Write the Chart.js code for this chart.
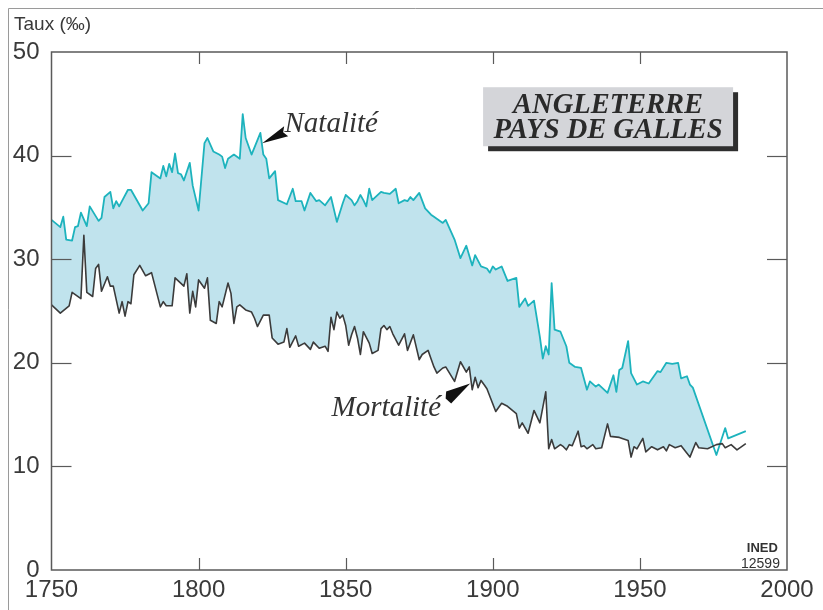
<!DOCTYPE html>
<html lang="fr">
<head>
<meta charset="utf-8">
<title>Angleterre - Pays de Galles : natalité et mortalité</title>
<script src="https://cdn.jsdelivr.net/npm/chart.js@4.4.1/dist/chart.umd.min.js"></script>
<style>
  html, body { margin: 0; padding: 0; background: #fff; }
  #wrap { width: 823px; height: 610px; }
</style>
</head>
<body>
<div id="wrap"><canvas id="graphique" width="823" height="610"></canvas></div>
<script>
// taux de natalité (pour mille)
const anneesNatalite = [1750, 1753, 1754, 1755, 1757, 1758, 1759, 1760, 1762, 1763, 1766, 1767, 1768, 1770, 1771, 1772, 1773, 1776, 1777, 1781,
  1783, 1784, 1787, 1788, 1789, 1790, 1791, 1792, 1793, 1794, 1795, 1797, 1798, 1800, 1802, 1803, 1805, 1807, 1808, 1809,
  1810, 1812, 1814, 1815, 1816, 1818, 1821, 1822, 1823, 1824, 1826, 1827, 1830, 1832, 1833, 1835, 1836, 1838, 1840, 1841,
  1843, 1845, 1847, 1849, 1850, 1852, 1853, 1854, 1855, 1856, 1857, 1858, 1859, 1862, 1863, 1865, 1867, 1868, 1870, 1871,
  1872, 1873, 1875, 1877, 1879, 1880, 1883, 1884, 1887, 1889, 1891, 1893, 1894, 1896, 1898, 1899, 1900, 1901, 1903, 1905,
  1908, 1909, 1911, 1912, 1914, 1916, 1917, 1918, 1919, 1920, 1921, 1923, 1925, 1926, 1928, 1930, 1932, 1933, 1935, 1936,
  1939, 1941, 1942, 1943, 1944, 1946, 1947, 1949, 1951, 1953, 1956, 1957, 1959, 1961, 1963, 1964, 1966, 1967, 1968, 1976,
  1979, 1980, 1986];
const natalite = [33.8, 33.1, 34.1, 31.9, 31.8, 33.1, 33.2, 34.5, 33.2, 35.1, 33.7, 34.0, 36.0, 36.5, 34.9, 35.6, 35.1, 36.7, 36.7, 34.7,
  35.4, 38.4, 37.8, 39.0, 38.0, 39.2, 38.4, 40.2, 38.3, 38.2, 37.6, 39.3, 37.1, 34.7, 41.2, 41.7, 40.4, 40.1, 39.9, 38.8,
  39.7, 40.1, 39.7, 44.0, 41.7, 40.1, 42.2, 40.1, 39.7, 37.8, 38.5, 35.7, 35.3, 36.8, 35.6, 35.6, 34.7, 36.4, 35.6, 35.7,
  35.2, 36.0, 33.6, 35.4, 36.2, 35.7, 35.2, 35.6, 36.2, 35.7, 35.1, 36.8, 35.7, 36.5, 36.4, 36.3, 36.8, 35.4, 35.7, 35.6,
  36.0, 35.7, 36.4, 34.9, 34.3, 34.1, 33.5, 33.8, 31.9, 30.1, 31.3, 29.4, 30.4, 29.3, 29.1, 28.7, 29.3, 29.0, 29.3, 27.9,
  28.2, 25.4, 26.2, 25.5, 26.0, 22.5, 20.4, 21.6, 20.8, 27.7, 23.2, 23.0, 21.6, 20.0, 19.6, 19.5, 17.4, 18.2, 17.7, 17.9,
  17.1, 18.8, 17.2, 19.3, 19.5, 22.1, 19.0, 17.9, 18.2, 18.0, 19.2, 19.1, 20.0, 19.9, 20.0, 18.5, 18.7, 17.9, 17.6, 11.1,
  13.7, 12.7, 13.4];

// taux de mortalité (pour mille)
const anneesMortalite = [1750, 1753, 1756, 1757, 1760, 1761, 1762, 1764, 1765, 1766, 1767, 1769, 1770, 1771, 1773, 1774, 1775, 1776, 1777, 1778,
  1780, 1782, 1784, 1787, 1788, 1789, 1791, 1792, 1795, 1796, 1797, 1798, 1799, 1800, 1802, 1803, 1804, 1806, 1807, 1808,
  1810, 1811, 1812, 1813, 1814, 1816, 1818, 1819, 1820, 1822, 1824, 1825, 1827, 1829, 1830, 1831, 1833, 1834, 1836, 1838,
  1839, 1841, 1843, 1844, 1845, 1846, 1847, 1848, 1849, 1850, 1851, 1852, 1853, 1854, 1855, 1856, 1858, 1859, 1861, 1862,
  1863, 1864, 1865, 1866, 1868, 1870, 1871, 1873, 1875, 1876, 1878, 1879, 1880, 1881, 1883, 1884, 1887, 1889, 1891, 1892,
  1893, 1894, 1895, 1896, 1897, 1898, 1901, 1903, 1905, 1908, 1909, 1910, 1912, 1914, 1916, 1918, 1919, 1920, 1921, 1923,
  1924, 1925, 1926, 1927, 1929, 1930, 1931, 1932, 1934, 1935, 1937, 1939, 1940, 1943, 1945, 1946, 1947, 1948, 1949, 1951,
  1952, 1954, 1956, 1958, 1959, 1960, 1962, 1964, 1967, 1969, 1970, 1973, 1976, 1978, 1979, 1981, 1983, 1986];
const mortalite = [25.6, 24.8, 25.5, 26.8, 26.2, 32.3, 26.8, 26.4, 29.1, 29.5, 26.9, 28.3, 27.4, 27.4, 24.8, 25.9, 24.5, 25.9, 25.7, 28.5,
  29.4, 28.4, 28.7, 25.4, 25.9, 25.5, 25.5, 28.2, 27.4, 28.6, 24.8, 26.9, 25.4, 28.0, 27.2, 28.2, 24.1, 23.8, 25.9, 25.4,
  27.7, 26.7, 23.8, 25.4, 25.6, 25.1, 24.9, 24.3, 23.5, 24.6, 24.6, 22.4, 21.8, 22.0, 23.3, 21.5, 22.6, 21.6, 21.9, 21.3,
  22.0, 21.4, 21.6, 21.1, 24.4, 23.2, 24.9, 24.3, 24.6, 23.6, 21.7, 22.7, 23.5, 22.4, 20.8, 23.0, 21.9, 20.9, 21.2, 23.3,
  23.6, 23.2, 23.5, 22.8, 21.7, 22.8, 21.2, 22.7, 20.3, 20.8, 21.2, 20.4, 19.6, 19.0, 19.5, 19.6, 18.2, 20.1, 19.1, 19.6,
  17.4, 18.6, 17.6, 18.3, 17.9, 17.5, 15.3, 16.1, 15.8, 15.1, 13.7, 14.2, 13.2, 15.4, 14.2, 17.2, 11.7, 12.6, 11.7, 12.1,
  11.9, 11.6, 12.1, 12.0, 13.4, 11.9, 12.0, 11.7, 12.1, 11.7, 11.8, 14.1, 12.9, 12.8, 12.6, 12.5, 10.9, 11.9, 11.7, 12.7,
  11.4, 11.9, 11.6, 11.9, 11.5, 12.1, 11.8, 12.0, 10.9, 12.3, 11.8, 11.7, 12.1, 12.2, 11.8, 12.1, 11.6, 12.2];

const ticksX = [1750, 1800, 1850, 1900, 1950, 2000];
const ticksY = [0, 10, 20, 30, 40, 50];
const finZone = 1976; // la zone bleue s'arrete au croisement des courbes

const ptsNat = anneesNatalite.map((a, i) => ({ x: a, y: natalite[i] }));
const ptsMort = anneesMortalite.map((a, i) => ({ x: a, y: mortalite[i] }));
const ptsZone = ptsNat.filter(p => p.x <= finZone);

const police = '"Liberation Sans", Arial, sans-serif';
const serif = '"Liberation Serif", "DejaVu Serif", serif';

// cadre, graduations interieures et textes
const habillage = {
  id: 'habillage',
  afterDraw(chart) {
    const { ctx, chartArea: a, scales: { x, y } } = chart;
    const trait = (x1, y1, x2, y2) => { ctx.beginPath(); ctx.moveTo(x1, y1); ctx.lineTo(x2, y2); ctx.stroke(); };
    ctx.save();

    // cadre exterieur
    ctx.strokeStyle = '#9a9a9a';
    ctx.lineWidth = 1;
    trait(8.5, 610, 8.5, 8.5);
    trait(8.5, 8.5, 823, 8.5);

    // cadre du graphique
    ctx.strokeStyle = '#5a5a5a';
    ctx.lineWidth = 1.5;
    ctx.strokeRect(a.left, a.top, a.right - a.left, a.bottom - a.top);
    ctx.lineWidth = 1.2;
    ticksY.slice(1, -1).forEach(v => {
      const py = Math.round(y.getPixelForValue(v)) + 0.5;
      trait(a.left, py, a.left + 20, py);
      trait(a.right - 20, py, a.right, py);
    });
    ticksX.slice(1, -1).forEach(v => {
      const px = Math.round(x.getPixelForValue(v)) + 0.5;
      trait(px, a.bottom, px, a.bottom - 12);
      trait(px, a.top, px, a.top + 12);
    });

    // titre de l'axe
    ctx.fillStyle = '#3a3a3a';
    ctx.font = '19px ' + police;
    ctx.textAlign = 'left';
    ctx.textBaseline = 'alphabetic';
    ctx.fillText('Taux (‰)', 14, 30);

    // encadre
    const bx = x.getPixelForValue(1896.7), by = y.getPixelForValue(46.6);
    const bw = 250, bh = 59;
    ctx.fillStyle = '#2e2e2e';
    ctx.fillRect(bx + 5, by + 5, bw, bh);
    ctx.fillStyle = '#d4d5d9';
    ctx.fillRect(bx, by, bw, bh);
    ctx.fillStyle = '#2a2a2a';
    ctx.font = 'italic bold 28.5px ' + serif;
    ctx.textAlign = 'center';
    ctx.fillText('ANGLETERRE', bx + bw / 2, by + 26);
    ctx.fillText('PAYS DE GALLES', bx + bw / 2, by + 51);

    // etiquettes des courbes avec fleches
    ctx.font = 'italic 29px ' + serif;
    ctx.textAlign = 'left';
    ctx.fillStyle = '#333';
    ctx.fillText('Natalité', x.getPixelForValue(1829.2), y.getPixelForValue(42.3));
    ctx.textAlign = 'right';
    ctx.fillText('Mortalité', x.getPixelForValue(1882.4), y.getPixelForValue(14.9));

    const fleche = (annee, taux, dx1, dy1, dx2, dy2) => {
      const tx = x.getPixelForValue(annee), ty = y.getPixelForValue(taux);
      ctx.beginPath();
      ctx.moveTo(tx, ty);
      ctx.lineTo(tx + dx1, ty + dy1);
      ctx.lineTo(tx + (dx1 + dx2) / 2 - 3, ty + (dy1 + dy2) / 2 + 1);
      ctx.lineTo(tx + dx2, ty + dy2);
      ctx.closePath();
      ctx.fillStyle = '#111';
      ctx.fill();
    };
    fleche(1821.6, 41.2, 22, -17, 26, -7);
    fleche(1892.3, 18.0, -24, 8, -19, 20);

    // source
    ctx.fillStyle = '#333';
    ctx.textAlign = 'right';
    ctx.font = 'bold 13px ' + police;
    ctx.fillText('INED', x.getPixelForValue(1996.9), y.getPixelForValue(1.75));
    ctx.font = '14px ' + police;
    ctx.fillText('12599', x.getPixelForValue(1997.6), y.getPixelForValue(0.2));
    ctx.restore();
  }
};

new Chart(document.getElementById('graphique'), {
  type: 'line',
  data: {
    datasets: [
      { label: 'Mortalité', data: ptsMort, borderColor: '#3b3b3b', borderWidth: 1.6, pointRadius: 0, fill: false },
      { label: 'Natalité', data: ptsNat, borderColor: '#1db3bd', borderWidth: 1.8, pointRadius: 0, fill: false },
      {
        label: 'zone', data: ptsZone, borderWidth: 0, borderColor: 'rgba(0,0,0,0)', pointRadius: 0,
        fill: { target: 0, above: '#c0e3ed', below: 'rgba(0,0,0,0)' }
      }
    ]
  },
  options: {
    responsive: false,
    animation: false,
    devicePixelRatio: 1,
    events: [],
    layout: { padding: { top: 52, right: 36, left: 0, bottom: 0 } },
    plugins: { legend: { display: false }, tooltip: { enabled: false } },
    elements: { line: { tension: 0, borderJoinStyle: 'round' } },
    scales: {
      x: {
        type: 'linear', min: 1750, max: 2000,
        afterBuildTicks: s => { s.ticks = ticksX.map(v => ({ value: v })); },
        afterFit: s => { s.height = 40; },
        grid: { display: false, drawTicks: false },
        border: { display: false },
        ticks: { padding: 6, color: '#3a3a3a', font: { family: police, size: 24 }, callback: v => String(v) }
      },
      y: {
        min: 0, max: 50,
        afterBuildTicks: s => { s.ticks = ticksY.map(v => ({ value: v })); },
        afterFit: s => { s.width = 51.5; },
        grid: { display: false, drawTicks: false },
        border: { display: false },
        ticks: { padding: 12, color: '#3a3a3a', font: { family: police, size: 24 }, callback: v => String(v) }
      }
    }
  },
  plugins: [habillage]
});
</script>
</body>
</html>
